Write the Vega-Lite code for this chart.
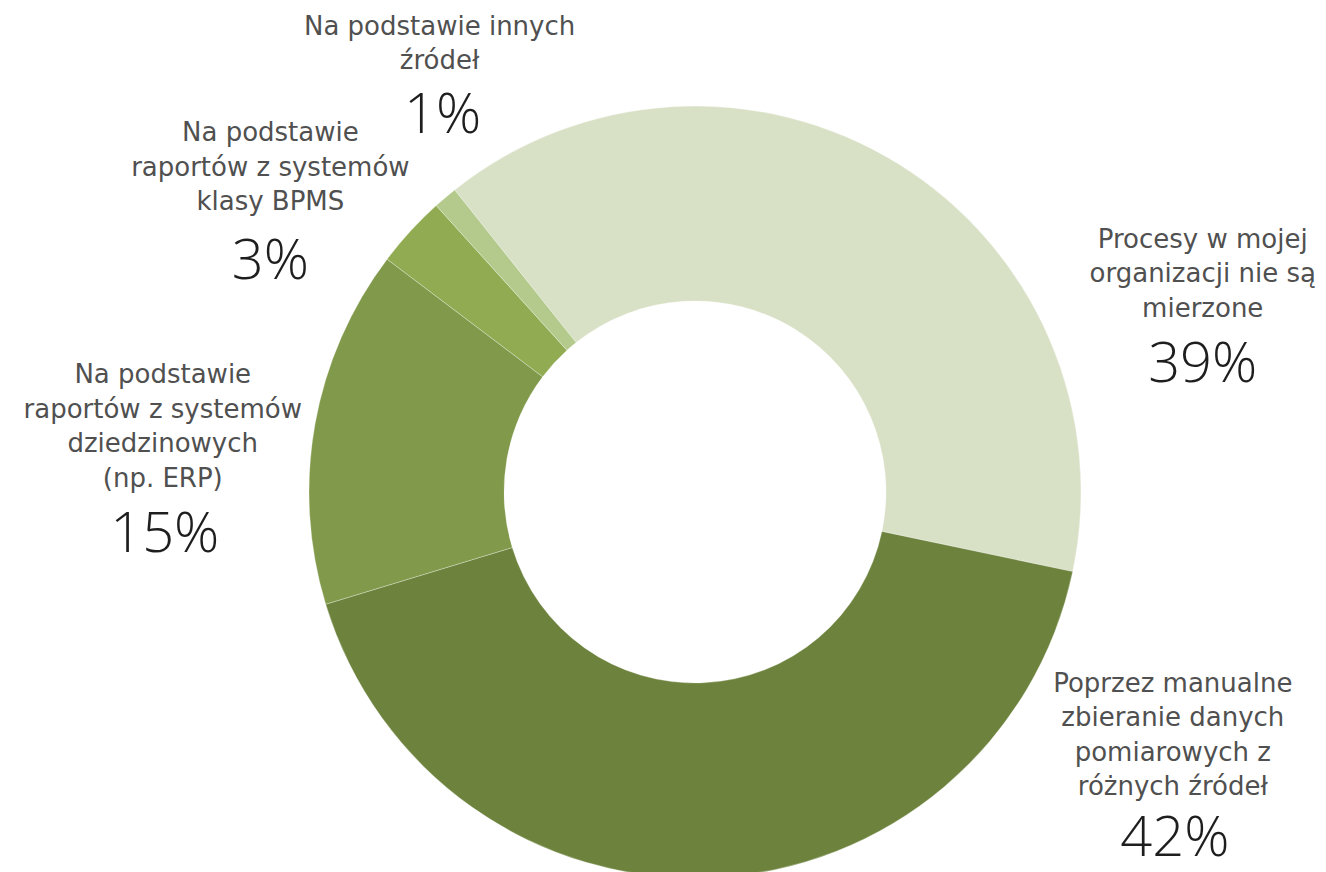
{
  "$schema": "https://vega.github.io/schema/vega-lite/v6.json",
  "width": 1262,
  "height": 760,
  "autosize": "none",
  "padding": {"left": 64, "top": 112, "right": 0, "bottom": 0},
  "background": "white",
  "config": {"view": {"stroke": null}},
  "data": {
    "values": [
      {"rank": 1, "category": "Procesy w mojej\norganizacji nie są\nmierzone", "share": 0.39},
      {"rank": 2, "category": "Poprzez manualne\nzbieranie danych\npomiarowych z\nróżnych źródeł", "share": 0.42},
      {"rank": 3, "category": "Na podstawie\nraportów z systemów\ndziedzinowych\n(np. ERP)", "share": 0.15},
      {"rank": 4, "category": "Na podstawie\nraportów z systemów\nklasy BPMS", "share": 0.03},
      {"rank": 5, "category": "Na podstawie innych\nźródeł", "share": 0.01}
    ]
  },
  "encoding": {
    "theta": {"field": "share", "type": "quantitative", "stack": true, "scale": {"range": [-0.672, 5.6112]}},
    "order": {"field": "rank", "type": "quantitative"}
  },
  "layer": [
    {
      "mark": {"type": "arc", "innerRadius": 191, "outerRadius": 386, "stroke": "#ffffff", "strokeWidth": 0.6, "strokeOpacity": 0.5},
      "encoding": {
        "color": {
          "field": "rank", "type": "nominal",
          "scale": {"domain": [1, 2, 3, 4, 5], "range": ["#d8e1c6", "#6d833d", "#80994a", "#90ab51", "#b3ca8c"]},
          "legend": null
        }
      }
    },
    {
      "mark": {
        "type": "text", "radius": 500, "lineBreak": "\n", "font": "DejaVu Sans", "fontSize": 26,
        "letterSpacing": 1.4, "color": "#505050", "align": "center", "baseline": "middle", "lineHeight": 34.5,
        "dx": {"expr": "[245, 456, -40, -56, 68][datum.rank - 1]"},
        "dy": {"expr": "[173, -308, -29, -21, -84][datum.rank - 1]"}
      },
      "encoding": {"text": {"field": "category", "type": "nominal"}}
    },
    {
      "mark": {
        "type": "text", "radius": 500, "font": "Open Sans", "fontWeight": 300, "fontSize": 56,
        "color": "#1e1e1e", "align": "center", "baseline": "middle",
        "dx": {"expr": "[245, 458, -38, -56, 71][datum.rank - 1]"},
        "dy": {"expr": "[298, -153, 131, 108, 5][datum.rank - 1]"}
      },
      "encoding": {"text": {"field": "share", "type": "quantitative", "format": ".0%"}}
    }
  ]
}
